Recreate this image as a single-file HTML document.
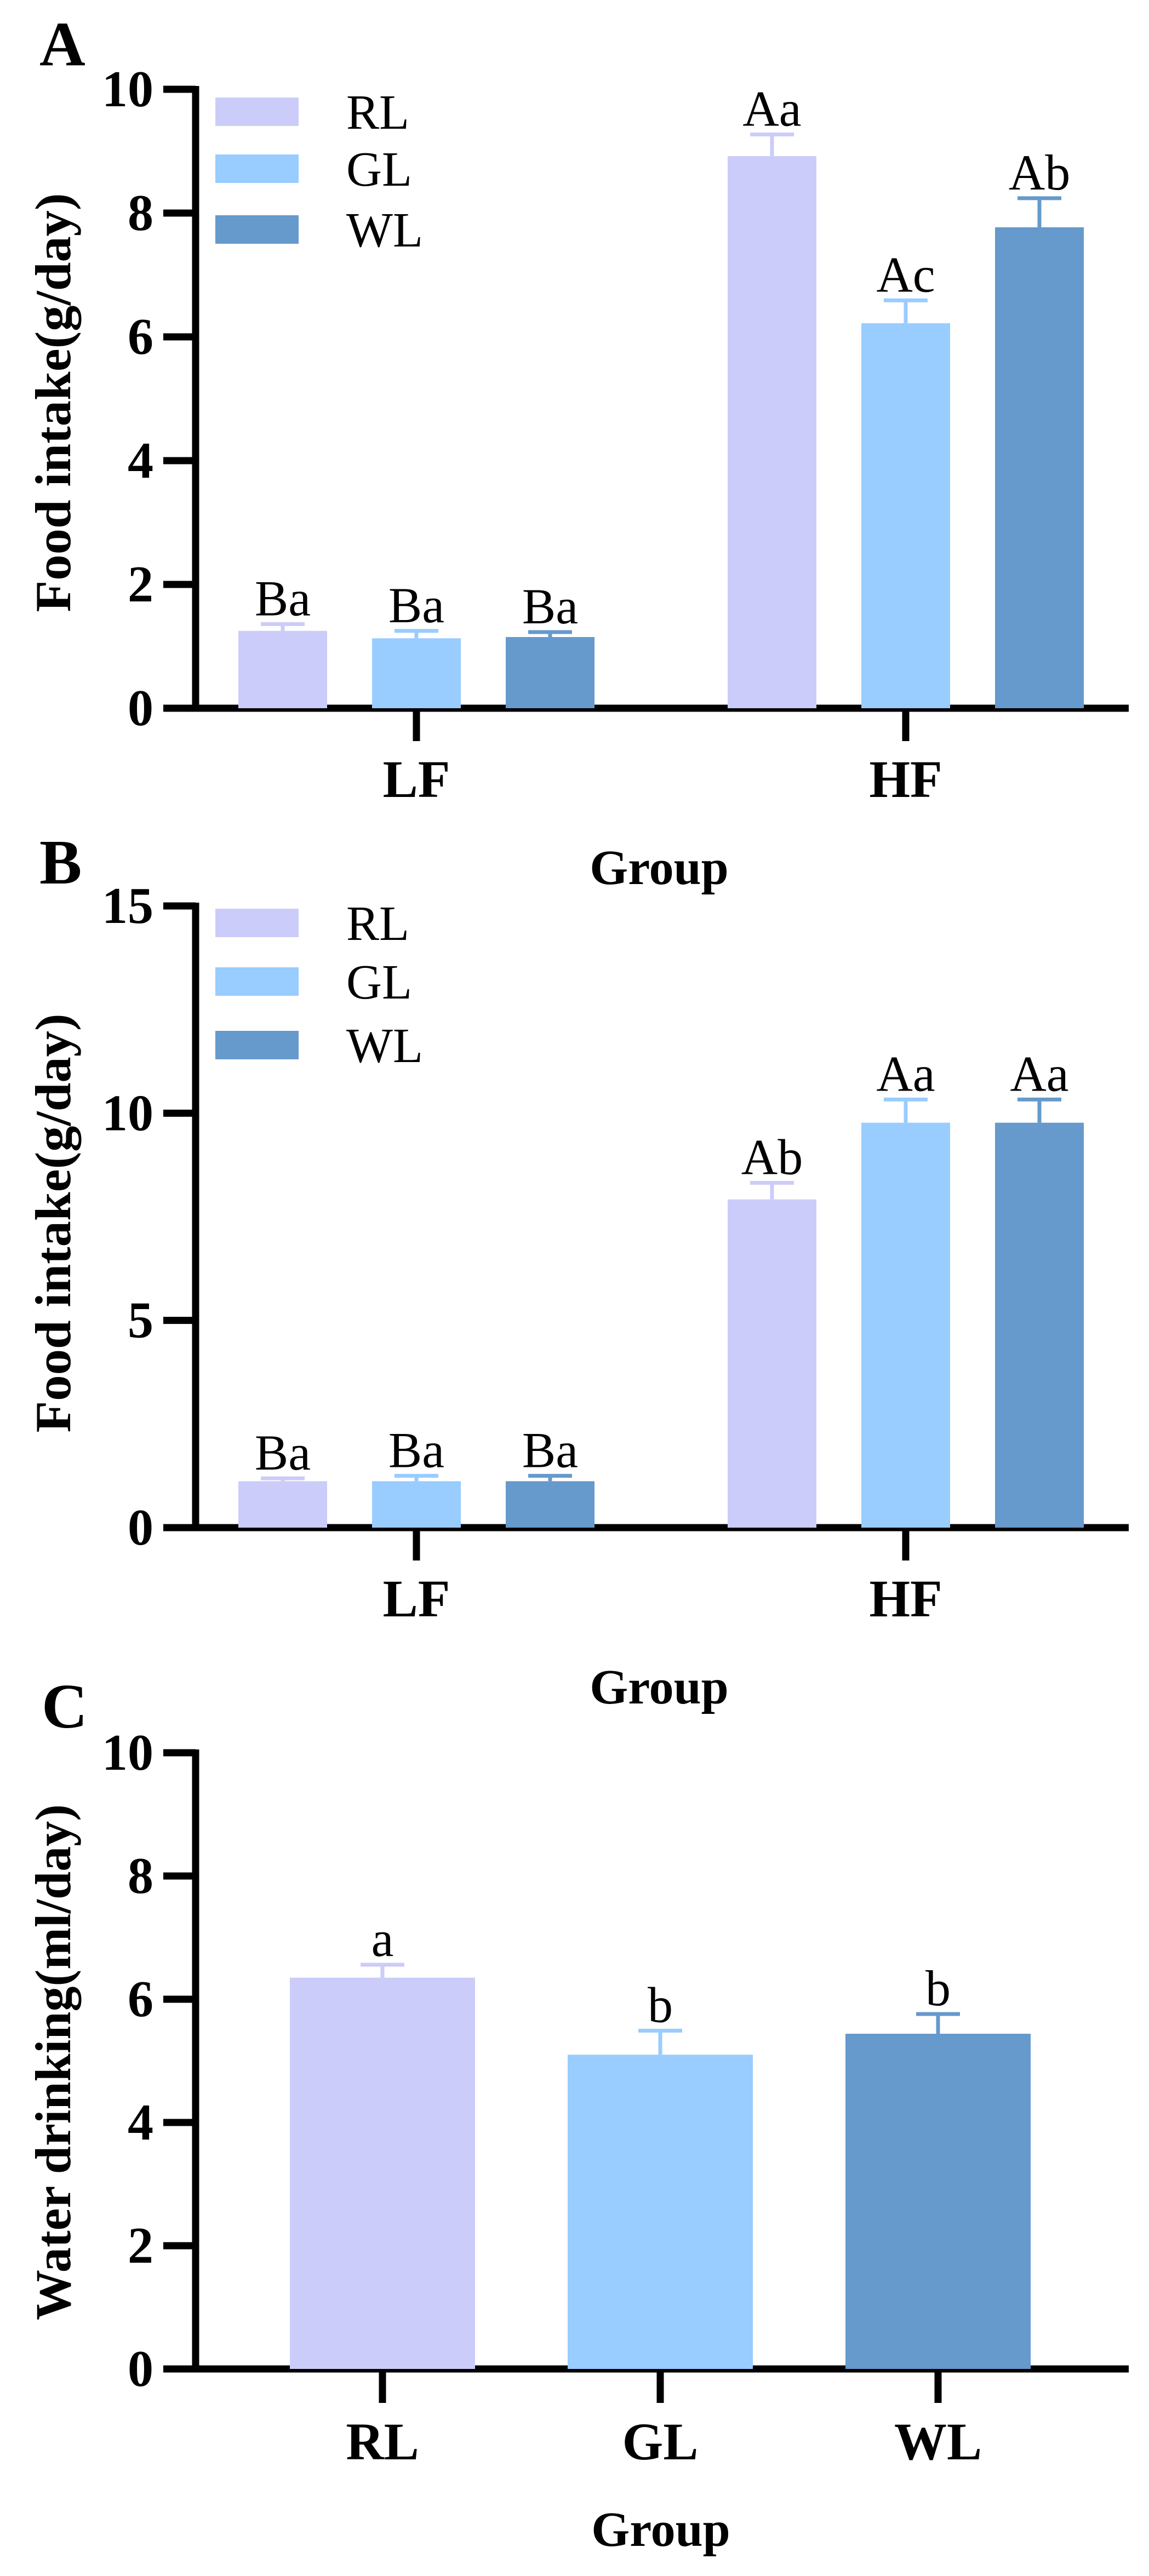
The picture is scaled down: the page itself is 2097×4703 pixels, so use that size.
<!DOCTYPE html>
<html><head><meta charset="utf-8"><style>
html,body{margin:0;padding:0;background:#fff}
svg{display:block}
text{font-family:"Liberation Serif","Times New Roman",serif;fill:#000}
.b{font-weight:bold}
</style></head><body>
<svg id="fig" width="2097" height="4703" viewBox="0 0 2097 4703" xmlns="http://www.w3.org/2000/svg"></svg>
<script>
// ---- data ----
const seriesNames = ["RL","GL","WL"];
const seriesColors = ["#ccccfa","#99ccff","#6699cc"];
const groupsAB = ["LF","HF"];
// Panel A
const aRL = [1.25, 8.92]; const aRLerr = [0.11, 0.35];
const aGL = [1.13, 6.22]; const aGLerr = [0.12, 0.37];
const aWL = [1.15, 7.77]; const aWLerr = [0.08, 0.47];
const aLabels = [["Ba","Aa"],["Ba","Ac"],["Ba","Ab"]];
const aTicks = [0,2,4,6,8,10];
// Panel B
const bRL = [1.12, 7.92]; const bRLerr = [0.07, 0.40];
const bGL = [1.12, 9.77]; const bGLerr = [0.13, 0.56];
const bWL = [1.12, 9.77]; const bWLerr = [0.13, 0.56];
const bLabels = [["Ba","Ab"],["Ba","Aa"],["Ba","Aa"]];
const bTicks = [0,5,10,15];
// Panel C
const cCats = ["RL","GL","WL"];
const cVals = [6.35, 5.10, 5.44];
const cErr = [0.21, 0.39, 0.32];
const cLabels = ["a","b","b"];
const cTicks = [0,2,4,6,8,10];

const NS="http://www.w3.org/2000/svg";
const svg=document.getElementById('fig');
function mk(tag,attrs,parent){const e=document.createElementNS(NS,tag);for(const k in attrs)e.setAttribute(k,attrs[k]);(parent||svg).appendChild(e);return e;}
function txt(s,attrs,parent){const e=mk('text',attrs,parent);e.textContent=s;return e;}

const AX=357, XEND=2060, TICKL=298;

function axes(g,y0,y1,maxV,ticks,yTitle,titleY,titleLen){
  const yS=v=>y0-(v/maxV)*(y0-y1);
  // y axis
  let l=mk('line',{x1:AX,y1:y1-6,x2:AX,y2:y0+6,stroke:'#000','stroke-width':13},g);
  
  
  l=mk('line',{x1:TICKL,y1:y0,x2:XEND,y2:y0,stroke:'#000','stroke-width':13},g);
  
  
  ticks.forEach(t=>{
    const y=yS(t);
    const tk=mk('line',{x1:TICKL,y1:y,x2:AX,y2:y,stroke:'#000','stroke-width':13},g);
    
    
    const tl=txt(String(t),{x:280,y:y+31,'text-anchor':'end','font-size':94,class:'b'},g);
    
    
  });
  const tt=txt(yTitle,{x:0,y:0,'text-anchor':'middle','font-size':92,class:'b',transform:`translate(128,${titleY}) rotate(-90)`,textLength:titleLen,lengthAdjust:'spacingAndGlyphs'},g);
  
  
  return yS;
}

function bar(g,cx,w,v,e,color,lab,yS,name){
  const r=mk('rect',{x:cx-w/2,y:yS(v),width:w,height:yS(0)-yS(v),fill:color},g);
  
  
  const et=yS(v+e);
  const el=mk('path',{d:`M${cx},${yS(v)}V${et}M${cx-40},${et}H${cx+40}`,stroke:color,'stroke-width':7,fill:'none'},g);
  
  
  const t=txt(lab,{x:cx,y:et-16,'text-anchor':'middle','font-size':92},g);
  
  
}

function legend(g,ys){
  seriesNames.forEach((n,i)=>{
    const r=mk('rect',{x:393,y:ys[i]-26,width:152,height:52,fill:seriesColors[i]},g);
    
    
    const t=txt(n,{x:632,y:ys[i]+31,'font-size':90},g);
    
    
  });
}

function groupedPanel(id,letter,letterY,y0,y1,maxV,ticks,series,errs,labels,legYs,titleY,groupTitleY){
  const g=mk('g',{});
  
  
  const pl=txt(letter,{x:72,y:letterY,'font-size':116,class:'b'},g);
  
  
  const yS=axes(g,y0,y1,maxV,ticks,'Food intake(g/day)',titleY,765);
  const centers=[760,1653];
  groupsAB.forEach((grp,gi)=>{
    const cx=centers[gi];
    series.forEach((s,si)=>{
      bar(g,cx+(si-1)*244,162,s[gi],errs[si][gi],seriesColors[si],labels[si][gi],yS,'bar-'+grp.toLowerCase()+'-'+seriesNames[si].toLowerCase());
    });
    const tk=mk('line',{x1:cx,y1:y0,x2:cx,y2:y0+60,stroke:'#000','stroke-width':13},g);
    
    
    const tl=txt(grp,{x:cx,y:y0+162,'text-anchor':'middle','font-size':96,class:'b'},g);
    
    
  });
  legend(g,legYs);
  const gt=txt('Group',{x:1203,y:groupTitleY,'text-anchor':'middle','font-size':90,class:'b'},g);
  
  
}

groupedPanel('a','A',119,1293,163,10,aTicks,[aRL,aGL,aWL],[aRLerr,aGLerr,aWLerr],aLabels,[204,308,419],735,1614);
groupedPanel('b','B',1613,2789,1654,15,bTicks,[bRL,bGL,bWL],[bRLerr,bGLerr,bWLerr],bLabels,[1685,1792,1908],2233,3110);

// Panel C
(function(){
  const g=mk('g',{});
  
  
  const pl=txt('C',{x:76,y:3154,'font-size':116,class:'b'},g);
  
  
  const y0=4325,y1=3200;
  const yS=axes(g,y0,y1,10,cTicks,'Water drinking(ml/day)',3765,942);
  const centers=[698,1205,1712];
  cCats.forEach((c,i)=>{
    bar(g,centers[i],338,cVals[i],cErr[i],seriesColors[i],cLabels[i],yS,'bar-'+c.toLowerCase());
    const tk=mk('line',{x1:centers[i],y1:y0,x2:centers[i],y2:y0+62,stroke:'#000','stroke-width':13},g);
    
    
    const tl=txt(c,{x:centers[i],y:y0+165,'text-anchor':'middle','font-size':96,class:'b'},g);
    
    
  });
  const gt=txt('Group',{x:1206,y:4648,'text-anchor':'middle','font-size':90,class:'b'},g);
  
  
})();
</script>
</body></html>
